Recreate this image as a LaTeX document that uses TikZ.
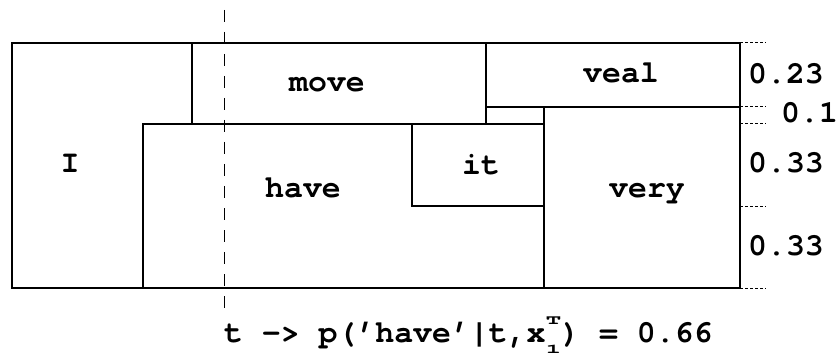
\documentclass[tikz,border=0pt]{standalone}
\usepackage{fontspec}
\newfontfamily\cour{texgyrecursor-bold.otf}
\usepackage{graphicx}
\newcommand{\smallsq}[1]{\scalebox{1.1}[0.55]{\fontsize{24}{24}\selectfont #1}}
\begin{document}
\begin{tikzpicture}[x=1pt,y=-1pt,
  box/.style={draw,line width=1.2pt},
  word/.style={font=\cour\fontsize{31.5}{36}\selectfont,inner sep=0pt,anchor=base},
  num/.style={font=\cour\fontsize{31.5}{36}\selectfont,inner sep=0pt,anchor=base west},
  tick/.style={line width=1pt,dash pattern=on 2.5pt off 2.5pt},
  cut/.style={line width=1pt,dash pattern=on 12pt off 10pt}]
\useasboundingbox (0,0) rectangle (840,358);
% boxes
\draw[box] (12,43) rectangle (740,288);
\draw[box] (192,43) rectangle (486,124);
\draw[box] (486,43) rectangle (740,107);
\draw[box] (143,124) rectangle (544,288);
\draw[box] (412,124) rectangle (544,206);
\draw[box] (544,107) rectangle (740,288);
% words
\node[word] (wI) at (70,173) {I};
\node[word] (wmove) at (327,92) {move};
\node[word] (wveal) at (621,83) {veal};
\node[word] (whave) at (303,197) {have};
\node[word] (wit) at (481,175) {it};
\node[word] (wvery) at (647,197) {very};
% ticks
\coordinate (t1a) at (740,43);  \coordinate (t1b) at (766,43);
\coordinate (t2a) at (740,107); \coordinate (t2b) at (766,107);
\coordinate (t3a) at (740,124); \coordinate (t3b) at (766,124);
\coordinate (t4a) at (740,206); \coordinate (t4b) at (766,206);
\coordinate (t5a) at (740,288); \coordinate (t5b) at (766,288);
\draw[tick] (t1a) -- (t1b);
\draw[tick] (t2a) -- (t2b);
\draw[tick] (t3a) -- (t3b);
\draw[tick] (t4a) -- (t4b);
\draw[tick] (t5a) -- (t5b);
% numbers
\node[num] (n1) at (748,84) {0.23};
\node[num] (n2) at (781,123) {0.1};
\node[num] (n3) at (748,173) {0.33};
\node[num] (n4) at (748,255) {0.33};
% dashed cut
\coordinate (ctop) at (224,10);
\coordinate (cbot) at (224,310);
\draw[cut] (ctop) -- (cbot);
% formula
\node[font=\cour\fontsize{31.5}{36}\selectfont,inner sep=0pt,anchor=base west] (form) at (224,342)
 {t -> p(’have’|t,x\rlap{\raisebox{18pt}{\smallsq{T}}}\raisebox{-11pt}{\smallsq{1}}) = 0.66};
\end{tikzpicture}
\end{document}
